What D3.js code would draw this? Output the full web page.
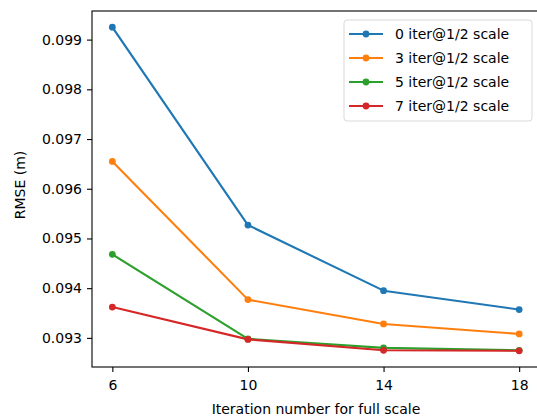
<!DOCTYPE html>
<html>
<head>
<meta charset="utf-8">
<script src="https://cdn.jsdelivr.net/npm/d3@7"></script>
<style>
  html, body { margin: 0; padding: 0; background: #fff; }
  svg { display: block; font-family: "DejaVu Sans", sans-serif; }
</style>
</head>
<body>
<svg id="chart" width="537" height="419"></svg>
<script>
// Iteration counts at full scale (x axis)
const iterations = [6, 10, 14, 18];

// RMSE (m) for each number of iterations run at 1/2 scale
const seriesNames = ["0 iter@1/2 scale", "3 iter@1/2 scale", "5 iter@1/2 scale", "7 iter@1/2 scale"];
const rmse0 = [0.09925, 0.09527, 0.09395, 0.09357];
const rmse3 = [0.09655, 0.09377, 0.09328, 0.09308];
const rmse5 = [0.09468, 0.09298, 0.09280, 0.09275];
const rmse7 = [0.09362, 0.09297, 0.09275, 0.09274];

const xTicks = [6, 10, 14, 18];
const yTicks = [0.093, 0.094, 0.095, 0.096, 0.097, 0.098, 0.099];
const colors = ["#1f77b4", "#ff7f0e", "#2ca02c", "#d62728"];

const series = [rmse0, rmse3, rmse5, rmse7].map((vals, i) => ({
  name: seriesNames[i],
  color: colors[i],
  points: vals.map((v, j) => ({ x: iterations[j], y: v }))
}));

const svg = d3.select("#chart");
const plotLeft = 92, plotRight = 539.5, plotTop = 11, plotBottom = 367;

// Axis limits padded by 5% of the data span on each side
const xExt = d3.extent(iterations);
const xPad = (xExt[1] - xExt[0]) * 0.05;
const allY = series.flatMap(s => s.points.map(p => p.y));
const yExt = d3.extent(allY);
const yPad = (yExt[1] - yExt[0]) * 0.05;

const x = d3.scaleLinear().domain([xExt[0] - xPad, xExt[1] + xPad]).range([plotLeft, plotRight]);
const y = d3.scaleLinear().domain([yExt[0] - yPad, yExt[1] + yPad]).range([plotBottom, plotTop]);

// Axes
const xAxis = d3.axisBottom(x).tickValues(xTicks).tickFormat(d3.format("d")).tickSize(5).tickPadding(8);
const yAxis = d3.axisLeft(y).tickValues(yTicks).tickFormat(d3.format(".3f")).tickSize(5).tickPadding(5);

const gx = svg.append("g").attr("transform", `translate(0,${plotBottom})`).call(xAxis);
const gy = svg.append("g").attr("transform", `translate(${plotLeft},0)`).call(yAxis);
[gx, gy].forEach(g => {
  g.selectAll("path.domain").remove();
  g.selectAll(".tick line").attr("stroke", "#000").attr("stroke-width", 1.1);
  g.selectAll(".tick text").attr("fill", "#000").style("font-size", "14px").style("font-family", "DejaVu Sans, sans-serif");
});

// Frame (spines)
svg.append("rect")
  .attr("x", plotLeft).attr("y", plotTop)
  .attr("width", plotRight - plotLeft).attr("height", plotBottom - plotTop)
  .attr("fill", "none").attr("stroke", "#000").attr("stroke-width", 1.1);

// Lines and markers
const line = d3.line().x(d => x(d.x)).y(d => y(d.y));
const plot = svg.append("g");
series.forEach(s => {
  plot.append("path")
    .datum(s.points)
    .attr("d", line)
    .attr("fill", "none")
    .attr("stroke", s.color)
    .attr("stroke-width", 2.1)
    .attr("stroke-linejoin", "round")
    .attr("stroke-linecap", "square");
  plot.selectAll(null)
    .data(s.points)
    .enter().append("circle")
    .attr("cx", d => x(d.x))
    .attr("cy", d => y(d.y))
    .attr("r", 3.4)
    .attr("fill", s.color);
});

// Axis titles
svg.append("text")
  .attr("x", 316)
  .attr("y", 414)
  .attr("text-anchor", "middle")
  .style("font-size", "14px")
  .text("Iteration number for full scale");

svg.append("text")
  .attr("transform", "translate(25,185) rotate(-90)")
  .attr("text-anchor", "middle")
  .style("font-size", "14px")
  .text("RMSE (m)");

// Legend
const lg = svg.append("g");
lg.append("rect")
  .attr("x", 344).attr("y", 20)
  .attr("width", 188).attr("height", 101)
  .attr("rx", 3)
  .attr("fill", "#fff").attr("fill-opacity", 0.8)
  .attr("stroke", "#d9d9d9").attr("stroke-width", 1);
series.forEach((s, i) => {
  const cy = 34 + i * 24;
  lg.append("line")
    .attr("x1", 349).attr("x2", 383)
    .attr("y1", cy).attr("y2", cy)
    .attr("stroke", s.color).attr("stroke-width", 2.1);
  lg.append("circle").attr("cx", 366).attr("cy", cy).attr("r", 3.4).attr("fill", s.color);
  lg.append("text")
    .attr("x", 395).attr("y", cy)
    .attr("dy", "0.35em")
    .style("font-size", "14px")
    .text(s.name);
});
</script>
</body>
</html>
